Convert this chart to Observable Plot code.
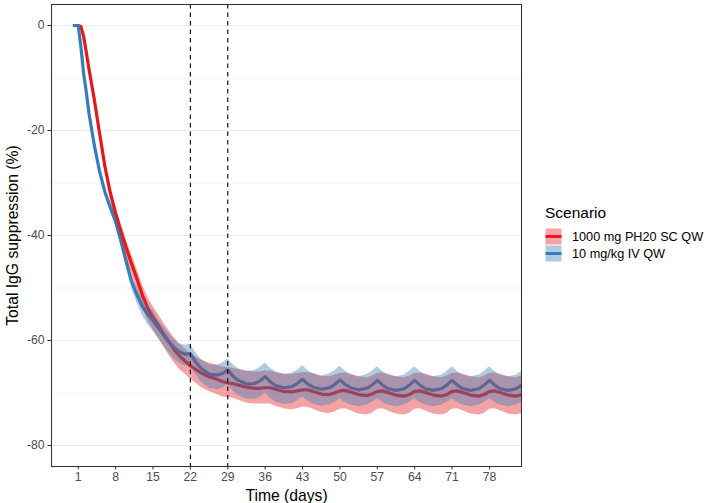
<!DOCTYPE html>
<html>
<head>
<meta charset="utf-8">
<script src="https://cdn.jsdelivr.net/npm/d3@7"></script>
<script src="https://cdn.jsdelivr.net/npm/@observablehq/plot@0.6"></script>
<style>
  html, body { margin: 0; padding: 0; background: #fff; }
  #wrap { position: relative; width: 724px; height: 503px; font-family: "Liberation Sans", Arial, sans-serif; }
  #legend { position: absolute; left: 545px; top: 204px; color: #000; }
  #legend .title { font-size: 15.5px; margin-bottom: 6px; }
  #legend .row { display: flex; align-items: center; height: 17px; font-size: 12.7px; }
  #legend svg { margin-right: 10px; }
</style>
</head>
<body>
<div id="wrap"><div id="chart"></div><div id="legend"></div></div>
<script>
// ---- data ----
const scenarios = ["1000 mg PH20 SC QW", "10 mg/kg IV QW"];
const colors = ["#E41A1C", "#377EB8"];
const doseMarkers = [22, 29];
const xTicks = [1, 8, 15, 22, 29, 36, 43, 50, 57, 64, 71, 78];
const yTicks = [0, -20, -40, -60, -80];
const yMinor = [-10, -30, -50, -70];

const days = [0, 0.5, 1, 1.5, 2, 2.5, 3, 4, 5, 6, 7, 8, 9, 10, 11, 12, 13, 14, 15, 16, 17, 18, 19, 20, 21,
  22, 23, 24, 25.5, 27, 28,
  29, 30, 31, 32.5, 34, 35,
  36, 37, 38, 39.5, 41, 42,
  43, 44, 45, 46.5, 48, 49,
  50, 51, 52, 53.5, 55, 56,
  57, 58, 59, 60.5, 62, 63,
  64, 65, 66, 67.5, 69, 70,
  71, 72, 73, 74.5, 76, 77,
  78, 79, 80, 81.5, 83, 84,
  85];

// 1000 mg PH20 SC QW
const scMedian = [0, 0, 0, -0.2, -2.0, -5.0, -8.2, -14.0, -20.5, -26.8, -31.8, -35.8, -39.2, -42.4, -45.4, -48.3, -51.3, -53.8, -55.6, -57.1, -58.8, -60.3, -61.8, -63.0, -63.9,
  -64.8, -65.5, -66.2, -66.9, -67.4, -67.8,
  -68.1, -68.2, -68.5, -68.9, -69.1, -69.1,
  -69.0, -69.0, -69.3, -69.7, -69.8, -69.6,
  -69.4, -69.4, -69.7, -70.2, -70.3, -70.0,
  -69.6, -69.5, -69.8, -70.3, -70.5, -70.2,
  -69.7, -69.6, -69.9, -70.4, -70.6, -70.3,
  -69.7, -69.6, -69.9, -70.4, -70.6, -70.3,
  -69.7, -69.6, -69.9, -70.4, -70.6, -70.3,
  -69.7, -69.6, -69.9, -70.4, -70.6, -70.3,
  -69.8];
const scUpper = [0, 0, 0, -0.2, -1.8, -4.7, -7.8, -13.4, -19.7, -25.8, -30.6, -34.4, -37.7, -40.8, -43.6, -46.4, -49.3, -51.7, -53.5, -55.0, -56.6, -58.1, -59.5, -60.7, -61.6,
  -62.5, -63.1, -63.7, -64.3, -64.7, -65.0,
  -65.2, -65.3, -65.5, -65.8, -66.0, -66.0,
  -65.8, -65.8, -66.1, -66.4, -66.5, -66.3,
  -66.1, -66.1, -66.3, -66.8, -66.9, -66.6,
  -66.3, -66.2, -66.4, -66.9, -67.1, -66.8,
  -66.3, -66.2, -66.4, -66.9, -67.1, -66.8,
  -66.3, -66.2, -66.4, -66.9, -67.1, -66.8,
  -66.3, -66.2, -66.4, -66.9, -67.1, -66.8,
  -66.3, -66.2, -66.4, -66.9, -67.1, -66.8,
  -66.3];
const scLower = [0, 0, 0, -0.2, -2.2, -5.4, -8.7, -14.7, -21.4, -27.9, -33.1, -37.3, -40.8, -44.2, -47.4, -50.4, -53.5, -56.1, -57.9, -59.5, -61.2, -62.8, -64.3, -65.5, -66.4,
  -67.3, -68.1, -68.9, -69.7, -70.3, -70.7,
  -70.9, -71.0, -71.4, -71.9, -72.1, -72.1,
  -72.1, -72.1, -72.5, -73.0, -73.2, -73.0,
  -72.7, -72.7, -73.1, -73.7, -73.9, -73.6,
  -73.1, -73.0, -73.4, -74.0, -74.2, -73.9,
  -73.1, -73.0, -73.4, -74.0, -74.2, -73.9,
  -73.1, -73.0, -73.4, -74.0, -74.2, -73.9,
  -73.1, -73.0, -73.4, -74.0, -74.2, -73.9,
  -73.1, -73.0, -73.4, -74.0, -74.2, -73.9,
  -73.1];

// 10 mg/kg IV QW
const ivMedian = [0, 0, 0, -4.0, -9.0, -12.6, -16.6, -22.7, -27.8, -31.7, -34.6, -37.3, -41.0, -45.0, -48.8, -51.3, -53.5, -55.0, -56.2, -57.6, -59.0, -60.3, -61.4, -62.2, -62.6,
  -62.5, -64.1, -65.3, -66.4, -66.6, -66.3,
  -65.6, -66.8, -67.6, -68.3, -68.2, -67.7,
  -66.9, -67.9, -68.6, -69.0, -68.8, -68.2,
  -67.4, -68.3, -68.9, -69.3, -69.0, -68.4,
  -67.5, -68.4, -69.0, -69.4, -69.1, -68.5,
  -67.6, -68.5, -69.2, -69.5, -69.2, -68.5,
  -67.6, -68.5, -69.2, -69.5, -69.2, -68.5,
  -67.6, -68.5, -69.2, -69.5, -69.2, -68.5,
  -67.6, -68.5, -69.2, -69.5, -69.2, -68.5,
  -67.6];
const ivUpper = [0, 0, 0, -3.7, -8.7, -12.3, -16.2, -22.3, -27.3, -31.1, -33.9, -36.5, -40.1, -44.0, -47.7, -50.0, -52.0, -53.3, -54.3, -55.9, -57.4, -58.7, -59.8, -60.6, -60.9,
  -60.7, -62.3, -63.5, -64.6, -64.7, -64.3,
  -63.5, -64.6, -65.4, -65.9, -65.7, -65.2,
  -64.3, -65.3, -66.0, -66.5, -66.2, -65.7,
  -64.8, -65.7, -66.4, -66.8, -66.4, -65.8,
  -64.9, -65.8, -66.5, -66.9, -66.5, -65.9,
  -65.0, -65.9, -66.6, -66.9, -66.6, -65.9,
  -65.0, -65.9, -66.6, -66.9, -66.6, -65.9,
  -65.0, -65.9, -66.6, -66.9, -66.6, -65.9,
  -65.0, -65.9, -66.6, -66.9, -66.6, -65.9,
  -65.0];
const ivLower = [0, 0, 0, -4.3, -9.3, -13.0, -17.0, -23.2, -28.4, -32.4, -35.4, -38.2, -42.0, -46.1, -50.1, -52.8, -55.2, -56.9, -58.2, -59.6, -61.0, -62.4, -63.5, -64.4, -64.9,
  -64.8, -66.5, -67.9, -69.1, -69.4, -69.1,
  -68.4, -69.6, -70.5, -71.2, -71.2, -70.8,
  -70.0, -71.0, -71.7, -72.2, -72.0, -71.5,
  -70.7, -71.5, -72.1, -72.5, -72.3, -71.8,
  -71.1, -71.8, -72.3, -72.6, -72.3, -71.8,
  -71.1, -71.8, -72.3, -72.6, -72.3, -71.8,
  -71.1, -71.8, -72.3, -72.6, -72.3, -71.8,
  -71.1, -71.8, -72.3, -72.6, -72.3, -71.8,
  -71.1, -71.8, -72.3, -72.6, -72.3, -71.8,
  -71.1];

// ---- tables ----
const mk = (scenario, med, lo, hi) => days.map((d, i) => ({day: d, med: med[i], lo: lo[i], hi: hi[i], scenario}));
const scRows = mk(scenarios[0], scMedian, scLower, scUpper);
const ivRows = mk(scenarios[1], ivMedian, ivLower, ivUpper);
const rows = scRows.concat(ivRows);

const fill = ["#E41A1C", "#377EB8"];
const alpha = 0.4;

const chart = Plot.plot({
  width: 724,
  height: 503,
  marginLeft: 51,
  marginRight: 203,
  marginTop: 4,
  marginBottom: 37,
  style: {fontFamily: '"Liberation Sans", Arial, sans-serif', background: "#fff"},
  x: {domain: [-4, 84]},
  y: {domain: [-84, 4]},
  color: {domain: scenarios, range: colors},
  marks: [
    Plot.ruleY(yMinor, {stroke: "#ebebeb", strokeWidth: 0.55}),
    Plot.ruleY(yTicks, {stroke: "#ebebeb", strokeWidth: 1.07}),
    Plot.lineY(rows, {x: "day", y: "med", z: "scenario", stroke: "scenario", strokeWidth: 3.2, strokeLinecap: "butt", clip: true}),
    Plot.areaY(scRows, {x: "day", y1: "lo", y2: "hi", fill: fill[0], fillOpacity: alpha, clip: true}),
    Plot.areaY(ivRows, {x: "day", y1: "lo", y2: "hi", fill: fill[1], fillOpacity: alpha, clip: true}),
    Plot.ruleX(doseMarkers, {stroke: "#000", strokeWidth: 1.1, strokeDasharray: "4.5,4"}),
    Plot.frame({stroke: "#333", strokeWidth: 1.07}),
    Plot.axisY(yTicks, {anchor: "left", label: null, tickSize: 3.5, tickPadding: 3.5, tickFormat: d => String(d), stroke: "#333", fill: "#4d4d4d", fontSize: 12.2}),
    Plot.axisX(xTicks, {anchor: "bottom", label: null, tickSize: 3.5, tickPadding: 2.5, tickFormat: d => String(d), stroke: "#333", fill: "#4d4d4d", fontSize: 12.2}),
    Plot.text(["Time (days)"], {frameAnchor: "bottom", text: d => d, lineAnchor: "middle", textAnchor: "middle", dy: 29.5, fontSize: 15.7, fill: "#000"}),
    Plot.text(["Total IgG suppression (%)"], {frameAnchor: "left", text: d => d, textAnchor: "middle", lineAnchor: "middle", rotate: -90, dx: -38.5, fontSize: 15.7, fill: "#000"})
  ]
});
document.getElementById("chart").appendChild(chart);

// ---- legend ----
const legend = document.getElementById("legend");
const t = document.createElement("div");
t.className = "title";
t.textContent = "Scenario";
legend.appendChild(t);
scenarios.forEach((s, i) => {
  const row = document.createElement("div");
  row.className = "row";
  row.innerHTML = `<svg width="17" height="17"><rect x="0.5" y="0.5" width="16" height="16" fill="${fill[i]}" fill-opacity="${alpha}"></rect><line x1="0.5" x2="16.5" y1="8.5" y2="8.5" stroke="${colors[i]}" stroke-width="3"></line></svg><span>${s}</span>`;
  legend.appendChild(row);
});
</script>
</body>
</html>
